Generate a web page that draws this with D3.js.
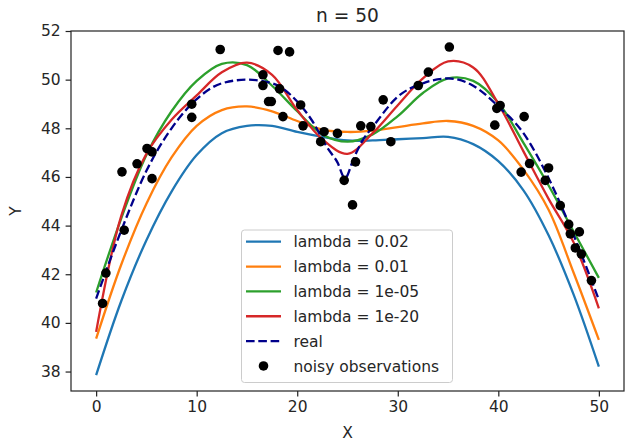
<!DOCTYPE html>
<html>
<head>
<meta charset="utf-8">
<script src="https://cdn.jsdelivr.net/npm/d3@7"></script>
<style>
  body { margin: 0; background: #fff; }
  text { font-family: "DejaVu Sans", sans-serif; fill: #262626; }
</style>
</head>
<body>
<div id="chart"></div>
<script>
var fitX = [0, 2.5, 5, 7.5, 10, 12.5, 15, 17.5, 20, 22.5, 25, 27.5, 30, 32.5, 35, 37.5, 40, 42.5, 45, 47.5, 50];

// fitted curves, one per lambda
var fitL002 = [37.85, 40.9, 43.4, 45.4, 46.9, 47.8, 48.1, 48.1, 47.85, 47.65, 47.5, 47.5, 47.55, 47.6, 47.65, 47.35, 46.65, 45.45, 43.6, 41.15, 38.2];
var fitL001 = [39.35, 42.4, 44.9, 46.8, 48.1, 48.75, 48.9, 48.7, 48.3, 47.95, 47.85, 47.9, 48.05, 48.2, 48.3, 48.1, 47.5, 46.3, 44.65, 42.05, 39.3];
var fitL1e5 = [41.25, 44.3, 46.9, 48.7, 49.95, 50.65, 50.6, 49.75, 48.7, 47.75, 47.45, 47.75, 48.5, 49.45, 50.05, 49.95, 49.05, 47.4, 45.65, 43.75, 41.85];
var fitL1e20 = [39.63, 44.4, 46.95, 48.35, 49.35, 50.3, 50.7, 50.2, 48.75, 47.55, 46.95, 47.8, 48.95, 50.05, 50.75, 50.5, 49.0, 47.05, 45.1, 43.3, 40.6];

// the real function (dashed), extra points around the dip
var realX = [0, 2.5, 5, 7.5, 10, 12.5, 15, 17.5, 20, 21.5, 23, 24, 24.75, 25.6, 26.5, 27.5, 30, 32.5, 35, 37.5, 40, 42.5, 45, 47.5, 50];
var realY = [41.0, 43.8, 46.25, 48.0, 49.2, 49.85, 50.0, 49.85, 49.1, 48.3, 47.2, 46.6, 45.95, 46.75, 47.5, 48.05, 49.3, 49.85, 50.05, 49.75, 48.9, 47.8, 45.95, 43.6, 40.95];

// noisy observations
var obsX = [0.64, 0.97, 2.79, 2.57, 4.07, 5.06, 5.56, 5.56, 9.51, 9.51,
            12.34, 18.09, 19.24, 16.59, 16.59, 18.25, 17.15, 17.42, 20.34, 18.58,
            20.58, 22.67, 24.0, 22.33, 24.67, 25.5, 25.8, 26.32, 27.32, 28.55,
            29.31, 32.04, 33.04, 35.13, 39.85, 40.18, 39.65, 42.57, 43.11, 42.27,
            45.0, 44.67, 46.16, 47.0, 47.16, 48.06, 47.66, 48.26, 49.26];
var obsY = [40.8, 42.05, 43.81, 46.21, 46.54, 47.17, 47.03, 45.93, 48.99, 48.45,
            51.24, 51.2, 51.14, 50.2, 49.76, 49.62, 49.1, 49.1, 48.96, 48.48,
            48.1, 47.86, 47.79, 47.45, 45.86, 44.85, 46.62, 48.1, 48.07, 49.17,
            47.45, 49.76, 50.31, 51.34, 48.82, 48.94, 48.13, 48.48, 46.55, 46.2,
            46.37, 45.86, 44.82, 44.05, 43.66, 43.74, 43.08, 42.83, 41.74];

var xTicks = [0, 10, 20, 30, 40, 50];
var yTicks = [38, 40, 42, 44, 46, 48, 50, 52];
var fitLabels = ["lambda = 0.02", "lambda = 0.01", "lambda = 1e-05", "lambda = 1e-20"];
var fitColors = ["#1f77b4", "#ff7f0e", "#2ca02c", "#d62728"];

var W = 633, H = 441;
var plotLeft = 71, plotRight = 624, plotTop = 31, plotBottom = 391;
var lw = 2.3;

var svg = d3.select("#chart").append("svg")
    .attr("width", W)
    .attr("height", H);

var x = d3.scaleLinear().domain([-2.5, 52.5]).range([plotLeft, plotRight]);
var y = d3.scaleLinear().domain([37.2, 52]).range([plotBottom, plotTop]);

// fitted curves
var fits = [fitL002, fitL001, fitL1e5, fitL1e20];
var fitLine = d3.line()
    .x(function (d, i) { return x(fitX[i]); })
    .y(function (d) { return y(d); })
    .curve(d3.curveCatmullRom.alpha(0.5));

fits.forEach(function (f, k) {
    svg.append("path")
        .attr("d", fitLine(f))
        .attr("fill", "none")
        .attr("stroke", fitColors[k])
        .attr("stroke-width", lw);
});

// real function, dashed
var realLine = d3.line()
    .x(function (d, i) { return x(realX[i]); })
    .y(function (d) { return y(d); })
    .curve(d3.curveMonotoneX);

svg.append("path")
    .attr("d", realLine(realY))
    .attr("fill", "none")
    .attr("stroke", "#00008b")
    .attr("stroke-width", lw)
    .attr("stroke-dasharray", "8.6,3.7");

// observations
svg.selectAll("circle.obs")
    .data(obsX)
    .enter()
    .append("circle")
    .attr("class", "obs")
    .attr("cx", function (d) { return x(d); })
    .attr("cy", function (d, i) { return y(obsY[i]); })
    .attr("r", 4.8)
    .attr("fill", "#000");

// spines
svg.append("rect")
    .attr("x", plotLeft)
    .attr("y", plotTop)
    .attr("width", plotRight - plotLeft)
    .attr("height", plotBottom - plotTop)
    .attr("fill", "none")
    .attr("stroke", "#222")
    .attr("stroke-width", 1.2);

// axes
var xAxis = svg.append("g")
    .attr("transform", "translate(0," + plotBottom + ")")
    .call(d3.axisBottom(x).tickValues(xTicks).tickSize(5.4).tickPadding(5));
var yAxis = svg.append("g")
    .attr("transform", "translate(" + plotLeft + ",0)")
    .call(d3.axisLeft(y).tickValues(yTicks).tickSize(5.4).tickPadding(5));

[xAxis, yAxis].forEach(function (a) {
    a.select(".domain").remove();
    a.selectAll("line").attr("stroke", "#222").attr("stroke-width", 1.2);
    a.selectAll("text")
        .attr("fill", "#262626")
        .style("font-size", "15.5px")
        .style("font-family", "DejaVu Sans, sans-serif");
});

// title and axis labels
svg.append("text")
    .attr("x", (plotLeft + plotRight) / 2)
    .attr("y", 22)
    .attr("text-anchor", "middle")
    .style("font-size", "18.6px")
    .text("n = 50");

svg.append("text")
    .attr("x", (plotLeft + plotRight) / 2)
    .attr("y", 438)
    .attr("text-anchor", "middle")
    .style("font-size", "15.5px")
    .text("X");

svg.append("text")
    .attr("transform", "translate(21," + ((plotTop + plotBottom) / 2) + ") rotate(-90)")
    .attr("text-anchor", "middle")
    .style("font-size", "15.5px")
    .text("Y");

// legend
var lg = svg.append("g");
lg.append("rect")
    .attr("x", 241.5)
    .attr("y", 230)
    .attr("width", 211)
    .attr("height", 152.5)
    .attr("rx", 3)
    .attr("fill", "#fff")
    .attr("fill-opacity", 0.8)
    .attr("stroke", "#cccccc")
    .attr("stroke-width", 1);

var rowY = function (i) { return 241.7 + i * 24.85; };
var entries = fitLabels.concat(["real", "noisy observations"]);

entries.forEach(function (label, i) {
    var yy = rowY(i);
    if (i < 4) {
        lg.append("line")
            .attr("x1", 246).attr("x2", 281)
            .attr("y1", yy).attr("y2", yy)
            .attr("stroke", fitColors[i])
            .attr("stroke-width", lw);
    } else if (i === 4) {
        lg.append("line")
            .attr("x1", 246).attr("x2", 281)
            .attr("y1", yy).attr("y2", yy)
            .attr("stroke", "#00008b")
            .attr("stroke-width", lw)
            .attr("stroke-dasharray", "8.6,3.7");
    } else {
        lg.append("circle")
            .attr("cx", 263.5).attr("cy", yy)
            .attr("r", 4.8)
            .attr("fill", "#000");
    }
    lg.append("text")
        .attr("x", 293.5)
        .attr("y", yy + 5.6)
        .style("font-size", "15.5px")
        .text(label);
});
</script>
</body>
</html>
